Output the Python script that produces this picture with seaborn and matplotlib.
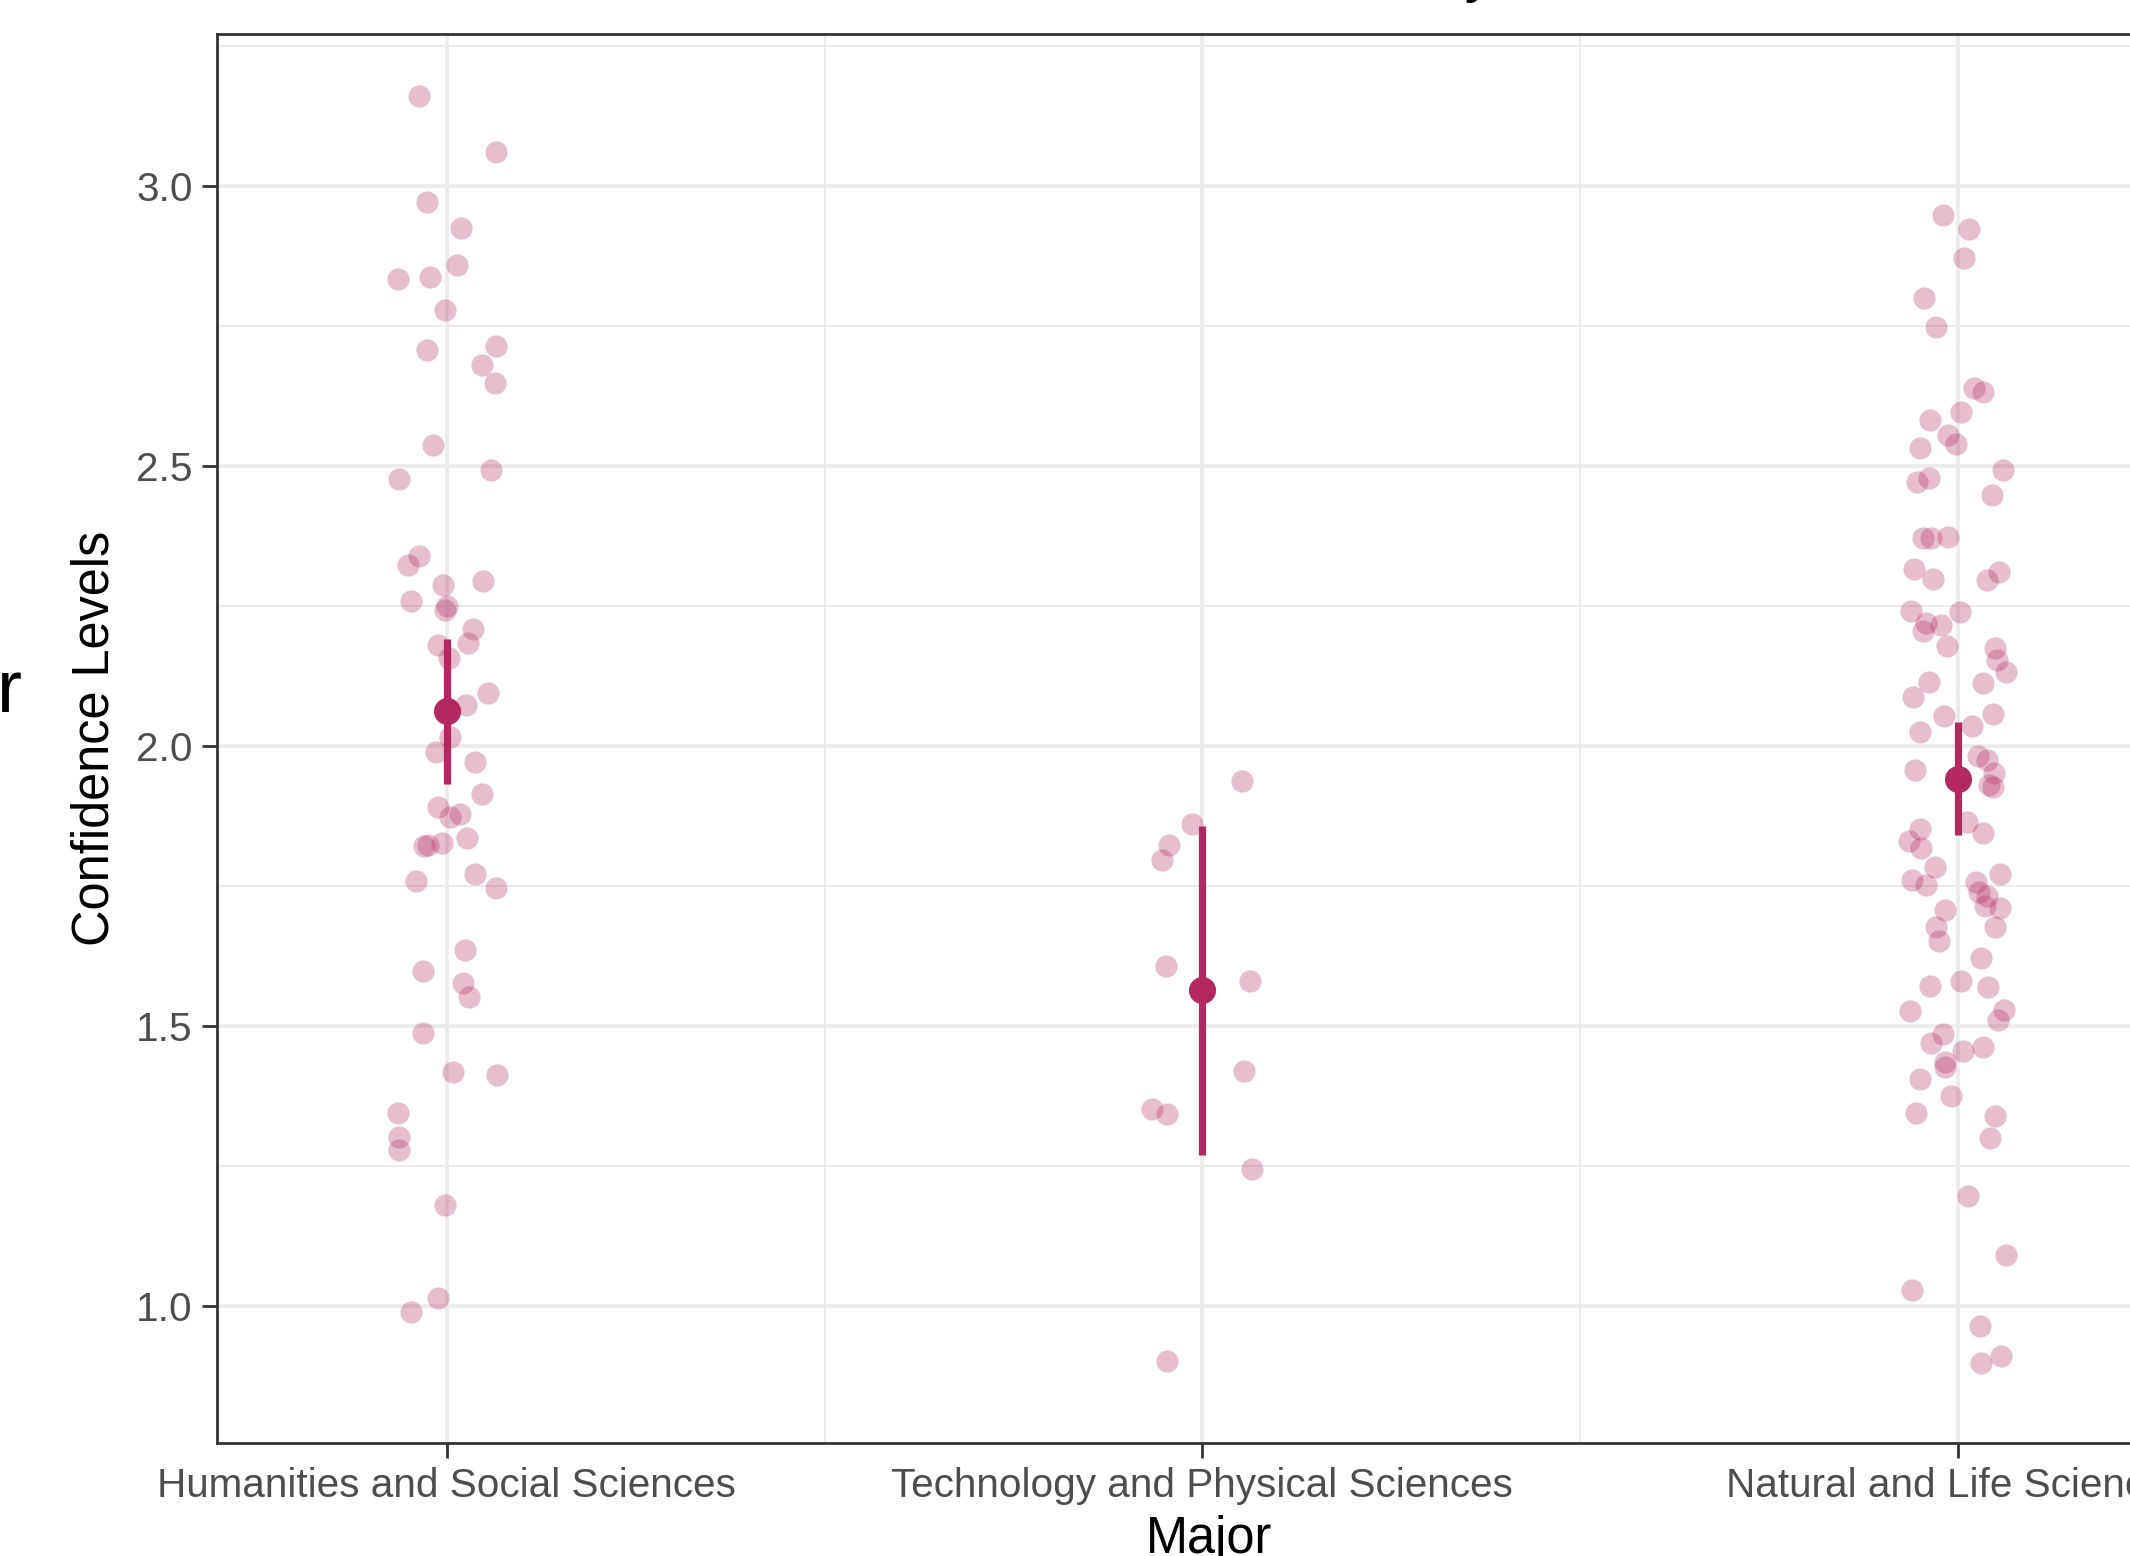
import numpy as np
import pandas as pd
import matplotlib
matplotlib.use("Agg")
import matplotlib.pyplot as plt
import seaborn as sns

categories = ["Humanities and Social Sciences", "Technology and Physical Sciences", "Natural and Life Sciences"]

hum_vals = [3.162, 3.061, 2.971, 2.925, 2.835, 2.838, 2.859, 2.779, 2.707, 2.714,
            2.680, 2.649, 2.538, 2.477, 2.493, 2.340, 2.324, 2.288, 2.295, 2.260,
            2.250, 2.243, 2.209, 2.184, 2.180, 2.157, 2.095, 2.074, 2.016, 1.989,
            1.972, 1.914, 1.891, 1.879, 1.873, 1.836, 1.821, 1.824, 1.826, 1.759,
            1.771, 1.746, 1.635, 1.599, 1.577, 1.552, 1.487, 1.418, 1.412, 1.345,
            1.302, 1.278, 1.180, 1.014, 0.989]
hum_jit = [-0.037, 0.065, -0.027, 0.019, -0.065, -0.022, 0.013, -0.003, -0.026, 0.065,
           0.046, 0.064, -0.018, -0.063, 0.058, -0.037, -0.052, -0.005, 0.048, -0.048,
           0.000, -0.003, 0.035, 0.028, -0.012, 0.003, 0.055, 0.025, 0.004, -0.015,
           0.037, 0.047, -0.012, 0.017, 0.004, 0.027, -0.030, -0.025, -0.006, -0.041,
           0.037, 0.065, 0.024, -0.031, 0.021, 0.029, -0.031, 0.008, 0.066, -0.065,
           -0.063, -0.064, -0.002, -0.012, -0.048]

tech_vals = [1.937, 1.861, 1.824, 1.797, 1.607, 1.581, 1.419, 1.351, 1.343, 1.245, 0.901]
tech_jit = [0.053, -0.014, -0.044, -0.053, -0.048, 0.063, 0.056, -0.066, -0.047, 0.066, -0.046]

nat_vals = [2.948, 2.923, 2.871, 2.800, 2.749, 2.640, 2.633, 2.597, 2.582, 2.555,
            2.539, 2.533, 2.494, 2.472, 2.478, 2.449, 2.371, 2.371, 2.374, 2.317,
            2.299, 2.297, 2.311,
            2.241, 2.240, 2.220, 2.206, 2.216, 2.178, 2.176, 2.154, 2.132, 2.114,
            2.113, 2.088, 2.053, 2.058, 2.026, 2.035, 1.983, 1.975, 1.951, 1.926,
            1.930, 1.958, 1.864, 1.845, 1.851, 1.830, 1.817, 1.784, 1.760, 1.751,
            1.772, 1.757, 1.739, 1.733, 1.715, 1.710, 1.708, 1.676, 1.676, 1.652,
            1.622, 1.571, 1.581, 1.569,
            1.526, 1.529, 1.510, 1.486, 1.469, 1.455, 1.462, 1.435, 1.427, 1.406,
            1.374, 1.345, 1.340, 1.299, 1.196, 1.090, 1.028, 0.964, 0.898, 0.910]
nat_jit = [-0.019, 0.015, 0.008, -0.044, -0.028, 0.022, 0.034, 0.005, -0.037, -0.013,
           -0.002, -0.049, 0.060, -0.053, -0.038, 0.046, -0.046, -0.035, -0.012, -0.058,
           -0.033, 0.039, 0.055,
           -0.061, 0.003, -0.042, -0.046, -0.022, -0.014, 0.050, 0.052, 0.064, -0.038,
           0.034, -0.059, -0.018, 0.047, -0.049, 0.019, 0.027, 0.039, 0.048, 0.047,
           0.042, -0.056, 0.012, 0.034, -0.049, -0.064, -0.048, -0.030, -0.060, -0.042,
           0.056, 0.024, 0.029, 0.039, 0.036, 0.056, -0.016, 0.049, -0.028, -0.024,
           0.031, -0.036, 0.005, 0.041,
           -0.063, 0.061, 0.053, -0.019, -0.035, 0.007, 0.034, -0.017, -0.017, -0.049,
           -0.009, -0.055, 0.049, 0.043, 0.014, 0.064, -0.060, 0.030, 0.031, 0.057]

# summary (mean and 95% CI) per major
means = [2.063, 1.564, 1.942]
ci_lo = [1.932, 1.269, 1.841]
ci_hi = [2.192, 1.858, 2.043]

y_ticks = [1.0, 1.5, 2.0, 2.5, 3.0]
y_minor = [1.25, 1.75, 2.25, 2.75, 3.25]
title_text = "Confidence Levels in Chemistry"

# ---------- build data ----------
rows = []
for i, (vals, jit) in enumerate([(hum_vals, hum_jit), (tech_vals, tech_jit), (nat_vals, nat_jit)]):
    for v, j in zip(vals, jit):
        rows.append({"major": categories[i], "pos": i + j, "conf": v})
df = pd.DataFrame(rows)
summ = pd.DataFrame({"major": categories, "pos": np.arange(3), "mean": means,
                     "lo": ci_lo, "hi": ci_hi})

sns.set_style("white")
plt.rcParams["font.family"] = ["Liberation Sans", "DejaVu Sans"]

W, H, DPI = 2130, 1556, 200
fig = plt.figure(figsize=(W / DPI, H / DPI), dpi=DPI)

# axes geometry in pixels (panel continues beyond right edge)
left_px, top_px, bot_px, right_px = 217, 34, 1443, 2200
ax = fig.add_axes([left_px / W, (H - bot_px) / H, (right_px - left_px) / W, (bot_px - top_px) / H])

col = "#B2285F"
sns.scatterplot(data=df, x="pos", y="conf", ax=ax, color=col, alpha=0.3, s=64,
                linewidth=0, legend=False, zorder=3)
ax.vlines(summ["pos"], summ["lo"], summ["hi"], color=col, lw=2.6, zorder=4)
sns.scatterplot(data=summ, x="pos", y="mean", ax=ax, color=col, s=95, linewidth=0,
                legend=False, zorder=5)

cat0_px, spacing_px = 446.9, 755.3
ax.set_xlim((left_px - cat0_px) / spacing_px, (right_px - cat0_px) / spacing_px)
ax.set_ylim(0.755, 3.272)

ax.set_xticks(range(3))
ax.set_xticklabels(categories)
ax.set_xticks([0.5, 1.5], minor=True)
ax.set_yticks(y_ticks)
ax.set_yticklabels([f"{t:.1f}" for t in y_ticks])
ax.set_yticks(y_minor, minor=True)

ax.grid(which="major", color="#EBEBEB", lw=1.3)
ax.grid(which="minor", color="#EBEBEB", lw=0.65)
ax.set_axisbelow(True)

ax.tick_params(which="major", length=5.3, width=1.0, color="#333333",
               labelcolor="#4D4D4D", labelsize=14.6, pad=3.4, direction="out",
               bottom=True, left=True)
ax.tick_params(which="minor", length=0)
for s in ax.spines.values():
    s.set_color("#333333")
    s.set_linewidth(1.0)

ax.set_xlabel("Major", fontsize=18.2, color="black", labelpad=3.5)
ax.set_ylabel("Confidence Levels", fontsize=18.2, color="black", labelpad=6)

# partially visible title (only the tail of its last letter falls inside) and side text
fig.text(1495 / W, 1 + 10 / H, title_text, ha="right", va="baseline", fontsize=21.9, color="black")
fig.text(22 / W, (H - 712) / H, "r", ha="right", va="baseline", fontsize=27, color="black")

fig.savefig("out.png", dpi=DPI)
